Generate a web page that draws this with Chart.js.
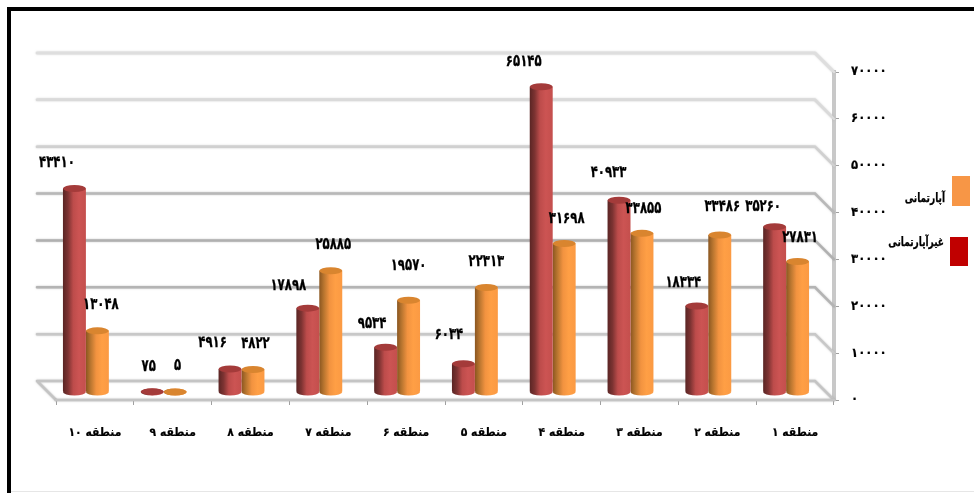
<!DOCTYPE html>
<html lang="fa">
<head>
<meta charset="utf-8">
<style>html,body{margin:0;padding:0;background:#fff}#w{position:relative;width:974px;height:493px}</style>
<script src="https://cdn.jsdelivr.net/npm/chart.js@4"></script>
</head>
<body>
<div id="w"><canvas id="c" width="974" height="493"></canvas></div>
<script>
const categories = ['منطقه ۱','منطقه ۲','منطقه ۳','منطقه ۴','منطقه ۵','منطقه ۶','منطقه ۷','منطقه ۸','منطقه ۹','منطقه ۱۰'];
const apartment = [27831,33486,33855,31698,22313,19570,25885,4822,5,13048];
const nonApartment = [35260,18334,40933,65145,6034,9534,17898,4916,75,43410];
const seriesNames = ['آپارتمانی','غیرآپارتمانی'];
const yTicks = [0,10000,20000,30000,40000,50000,60000,70000];
const gridShades = ['#c4c4c4','#c8c8c8','#b4b4b4','#b0b0b0','#b8b8b8','#d0d0d0','#dadada','#dedede'];
// label nudges relative to the bar's top, in region order 1..10
const aptNudge = [[2.5,-24],[2.5,-28],[1.5,-25],[2.5,-25],[0,-26],[0,-35],[2.5,-26],[2.5,-26],[2.5,-26],[3.5,-26]];
const nonNudge = [[-11.5,-20],[-13.5,-23],[-10.5,-27],[-17.5,-25],[-14.5,-29],[-13.5,-24],[-19.5,-22],[-17.5,-26],[-3.5,-25],[-17.5,-26]];

const FONT = '"DejaVu Sans Condensed","DejaVu Sans",sans-serif';
const DX = -9, DY = -8, WALL = 19;
const fa = v => String(v).replace(/\d/g, d => '۰۱۲۳۴۵۶۷۸۹'[d]);
const catPct = 0.59;

const paints = [
  {stops:[[0,'#5a2524'],[0.22,'#7d3332'],[0.45,'#bd4c4b'],[0.7,'#cc5453'],[1,'#c44f4d']], top:'#a43b3a'},
  {stops:[[0,'#8a5620'],[0.2,'#b8752f'],[0.45,'#f29340'],[0.7,'#ff9f45'],[1,'#fb9a43']], top:'#d9852f'}
];
function barGradient(ctx){
  const chart = ctx.chart, x = chart.scales.x;
  const solid = paints[ctx.datasetIndex].stops[3][1];
  if (!x || ctx.dataIndex === undefined) return solid;
  const w = (x.width / categories.length) * catPct / 2;
  const c = x.getPixelForValue(ctx.dataIndex);
  const left = ctx.datasetIndex === 0 ? c - w : c;
  if (!isFinite(left) || !isFinite(w)) return solid;
  const g = chart.ctx.createLinearGradient(left, 0, left + w, 0);
  paints[ctx.datasetIndex].stops.forEach(s => g.addColorStop(s[0], s[1]));
  return g;
}
function tallText(c, text, x, y, sy){
  c.save();
  c.translate(x, y);
  c.scale(1, sy);
  c.lineWidth = 0.2;
  c.strokeStyle = '#000';
  c.fillText(text, 0, 0);
  c.strokeText(text, 0, 0);
  c.restore();
}

const scene = {
  id: 'scene',
  beforeDraw(chart){
    const c = chart.ctx;
    c.save();
    c.fillStyle = '#000';
    c.fillRect(7, 7, 4, 486);
    c.fillRect(7, 7, 967, 4);
    c.fillStyle = '#e6e6e6';
    c.fillRect(11, 491, 963, 1);
    c.restore();
  },
  beforeDatasetsDraw(chart){
    const c = chart.ctx, y = chart.scales.y, x = chart.scales.x;
    const L = x.left, R = x.right;
    c.save();
    c.lineCap = 'round';
    yTicks.forEach((t, i) => {
      const py = y.getPixelForValue(t);
      c.strokeStyle = gridShades[i];
      c.shadowColor = 'rgba(170,170,170,.7)';
      c.shadowBlur = 2;
      c.lineWidth = 2.5;
      c.beginPath();
      if (i === 0){ c.moveTo(L, py); c.lineTo(L - WALL, py - WALL); }
      c.moveTo(L - WALL, py - WALL);
      c.lineTo(R - WALL, py - WALL);
      c.lineTo(R, py);
      c.stroke();
    });
    const p0 = y.getPixelForValue(0);
    c.strokeStyle = '#c4c4c4';
    c.beginPath(); c.moveTo(L, p0); c.lineTo(R, p0); c.stroke();
    c.restore();
    c.save();
    c.translate(DX, DY);
  },
  afterDatasetsDraw(chart){
    const c = chart.ctx, y = chart.scales.y;
    const base = y.getPixelForValue(0);
    [0, 1].forEach(ds => {
      const meta = chart.getDatasetMeta(ds);
      meta.data.forEach((el, i) => {
        const rx = el.width / 2;
        // rounded foot of the cylinder
        c.fillStyle = el.options.backgroundColor;
        c.beginPath(); c.ellipse(el.x, base, rx, 3.5, 0, 0, Math.PI * 2); c.fill();
        // top cap
        c.fillStyle = paints[ds].top;
        c.beginPath(); c.ellipse(el.x, el.y, rx, 3.5, 0, 0, Math.PI * 2); c.fill();
      });
    });
    c.restore();
    // value labels
    c.save();
    c.font = 'bold 13px ' + FONT;
    c.fillStyle = '#000';
    c.textAlign = 'center';
    c.textBaseline = 'middle';
    [[0, nonNudge], [1, aptNudge]].forEach(([ds, nudge]) => {
      chart.getDatasetMeta(ds).data.forEach((el, i) => {
        const v = chart.data.datasets[ds].data[i];
        tallText(c, fa(v), el.x + DX + nudge[i][0], el.y + DY + nudge[i][1], 1.25);
      });
    });
    // legend
    c.textAlign = 'right';
    c.font = 'bold 10px ' + FONT;
    c.fillStyle = '#f79646';
    c.fillRect(952, 176, 18, 30);
    c.fillStyle = '#c00000';
    c.fillRect(950, 237, 18, 29);
    c.fillStyle = '#000';
    tallText(c, seriesNames[0], 945, 199, 1.25);
    tallText(c, seriesNames[1], 944, 243, 1.25);
    c.restore();
  }
};

new Chart(document.getElementById('c'), {
  type: 'bar',
  plugins: [scene],
  data: {
    labels: categories,
    datasets: [
      {label: seriesNames[1], data: nonApartment, backgroundColor: barGradient},
      {label: seriesNames[0], data: apartment, backgroundColor: barGradient}
    ]
  },
  options: {
    responsive: false,
    animation: false,
    datasets: {bar: {categoryPercentage: catPct, barPercentage: 1, borderWidth: 0}},
    layout: {padding: {left: 56, top: 72, right: 0, bottom: 0}},
    plugins: {legend: {display: false}, tooltip: {enabled: false}},
    scales: {
      x: {
        reverse: true,
        afterFit: s => { s.height = 93; },
        grid: {drawOnChartArea: false, drawTicks: true, tickLength: 5, color: '#a0a0a0'},
        border: {display: false},
        ticks: {font: {family: FONT, size: 12, weight: 'bold'}, color: '#000', textStrokeColor: '#000', textStrokeWidth: 0.2, padding: 21, maxRotation: 0, autoSkip: false}
      },
      y: {
        position: 'right',
        min: 0, max: 70000,
        afterFit: s => { s.width = 140; },
        afterBuildTicks: s => { s.ticks = yTicks.map(v => ({value: v})); },
        grid: {drawOnChartArea: false, drawTicks: true, tickLength: 5, color: '#a0a0a0'},
        border: {display: true, width: 4, color: '#c8c8c8'},
        ticks: {font: {family: FONT, size: 13, weight: 'bold'}, color: '#000', textStrokeColor: '#000', textStrokeWidth: 0.2, padding: 12, callback: v => fa(v)}
      }
    }
  }
});
</script>
</body>
</html>
